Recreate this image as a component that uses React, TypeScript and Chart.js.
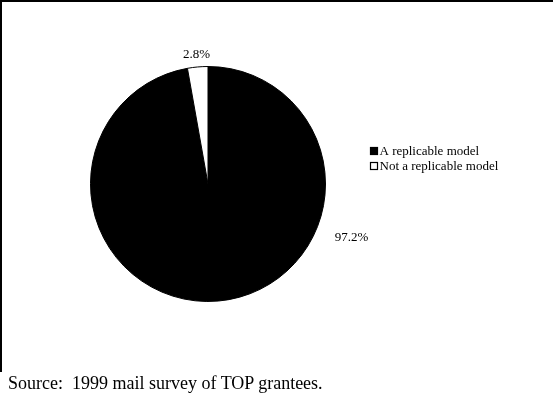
import React, { useEffect, useRef } from "react";
import { Chart, registerables } from "chart.js";

Chart.register(...registerables);

// Survey responses: share of grantees rating their project
const categories: string[] = ["A replicable model", "Not a replicable model"];
const shares: number[] = [97.2, 2.8];
const sliceColors: string[] = ["#000000", "#ffffff"];
const sourceNote = "Source:  1999 mail survey of TOP grantees.";

const SERIF = "'Liberation Serif', 'Times New Roman', serif";

// Percentage labels placed around the pie, plus a compact legend to its right
const pieAnnotations = {
  id: "pieAnnotations",
  afterDatasetsDraw(chart: Chart) {
    const { ctx } = chart;
    const meta = chart.getDatasetMeta(0);
    const data = chart.data.datasets[0].data as number[];
    ctx.save();
    ctx.font = `13px ${SERIF}`;
    ctx.fillStyle = "#000";
    ctx.textAlign = "center";
    ctx.textBaseline = "middle";
    meta.data.forEach((el: any, i: number) => {
      const { x, y, outerRadius, startAngle, endAngle } = el.getProps(
        ["x", "y", "outerRadius", "startAngle", "endAngle"],
        true
      );
      const text = `${data[i].toFixed(1)}%`;
      let angle = (startAngle + endAngle) / 2;
      let dist = outerRadius + 12;
      if (i === 0) {
        // large slice: label sits to the lower right of the pie
        angle = 0.36;
        dist = outerRadius + 36;
      }
      ctx.fillText(text, x + Math.cos(angle) * dist, y + Math.sin(angle) * dist);
    });

    // legend
    const lx = 370;
    const ly = 152;
    const rowH = 15;
    ctx.textAlign = "left";
    ctx.textBaseline = "middle";
    categories.forEach((label, i) => {
      const cy = ly + i * rowH;
      ctx.fillStyle = sliceColors[i];
      ctx.fillRect(lx, cy - 5, 8, 8);
      ctx.strokeStyle = "#000";
      ctx.lineWidth = 1.2;
      ctx.strokeRect(lx + 0.5, cy - 4.5, 7, 7);
      ctx.fillStyle = "#000";
      ctx.fillText(label, lx + 9.5, cy);
    });
    ctx.restore();
  },
};

export default function App() {
  const canvasRef = useRef<HTMLCanvasElement | null>(null);

  useEffect(() => {
    if (!canvasRef.current) return;
    const chart = new Chart(canvasRef.current, {
      type: "pie",
      data: {
        labels: categories,
        datasets: [
          {
            data: shares,
            backgroundColor: sliceColors,
            borderColor: "#000000",
            borderWidth: 1,
          },
        ],
      },
      options: {
        responsive: false,
        animation: false,
        layout: { padding: { left: 89, right: 226, top: 66, bottom: 95 } },
        plugins: {
          legend: { display: false },
          tooltip: { enabled: false },
        },
      },
      plugins: [pieAnnotations],
    });
    return () => chart.destroy();
  }, []);

  return (
    <div
      style={{
        position: "fixed",
        left: 0,
        top: 0,
        width: 553,
        height: 397,
        background: "#fff",
        overflow: "hidden",
      }}
    >
      <div
        style={{
          position: "absolute",
          left: 0,
          top: 0,
          width: 553,
          height: 372,
          borderTop: "2px solid #000",
          borderLeft: "2px solid #000",
          boxSizing: "border-box",
        }}
      />
      <canvas
        ref={canvasRef}
        width={553}
        height={397}
        style={{ position: "absolute", left: 0, top: 0 }}
      />
      <div
        style={{
          position: "absolute",
          left: 8,
          top: 373,
          fontFamily: SERIF,
          fontSize: 18,
          lineHeight: "20px",
          whiteSpace: "pre",
          color: "#000",
        }}
      >
        {sourceNote}
      </div>
    </div>
  );
}
